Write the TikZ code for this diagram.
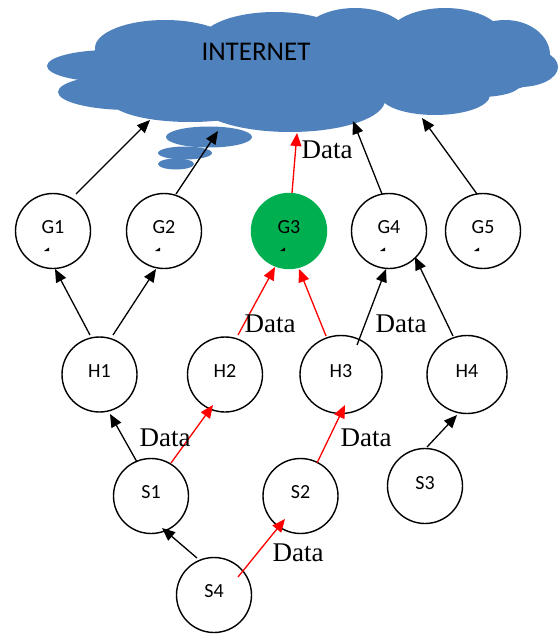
\documentclass[tikz,border=0pt]{standalone}
\usepackage{fontspec}
\newfontfamily\lblfont{Carlito}
\newfontfamily\datafont{Liberation Serif}
\usetikzlibrary{arrows.meta,shapes.geometric,calc}
\definecolor{cloudblue}{RGB}{79,129,189}
\definecolor{nodegreen}{RGB}{0,176,80}
\definecolor{datared}{RGB}{255,0,0}
\begin{document}
\begin{tikzpicture}[x=1pt,y=-1pt,
  station/.style={ellipse,draw=black,line width=1.4pt,minimum width=75pt,minimum height=75pt,inner sep=0pt,font=\lblfont\fontsize{20}{20}\selectfont},
  link/.style={line width=1.3pt,-{Triangle[length=13pt,width=11pt]}},
  datalink/.style={link,draw=datared,fill=datared},
  datalabel/.style={font=\datafont\fontsize{27}{27}\selectfont,inner sep=0pt},
  tickmark/.style={fill=black}]
\useasboundingbox (0,0) rectangle (558,634);
% cloud
\begin{scope}[fill=cloudblue]
\fill (110,66) ellipse [x radius=63, y radius=16];
\fill (130,92) ellipse [x radius=72, y radius=18];
\fill (165,48) ellipse [x radius=70, y radius=28];
\fill (275,42) ellipse [x radius=75, y radius=30];
\fill (355,40) ellipse [x radius=55, y radius=32];
\fill (445,38) ellipse [x radius=58, y radius=30];
\fill (505,55) ellipse [x radius=45, y radius=35];
\fill (520,67) ellipse [x radius=38, y radius=20];
\fill (480,85) ellipse [x radius=40, y radius=12];
\fill (435,95) ellipse [x radius=55, y radius=20];
\fill (290,100) ellipse [x radius=95, y radius=32];
\fill (190,100) ellipse [x radius=80, y radius=22];
\fill (300,65) ellipse [x radius=220, y radius=40];
% small puffs
\fill (209,137) ellipse [x radius=43, y radius=10.5];
\fill (185,153) ellipse [x radius=27, y radius=6.5];
\fill (176,164) ellipse [x radius=18, y radius=5.5];
\end{scope}
\node[font=\lblfont\fontsize{27}{27}\selectfont,inner sep=0pt] (inet) at (256,52) {INTERNET};
\coordinate (c1) at (150,120);
\coordinate (c2) at (218,131);
\coordinate (c3) at (297,133);
\coordinate (c4) at (353,121);
\coordinate (c5) at (422,118);
% nodes
\node[station] (G1) at (53,231) {\raisebox{7pt}{G1}};
\node[station] (G2) at (164,231) {\raisebox{7pt}{G2}};
\node[station,fill=nodegreen,draw=nodegreen] (G3) at (289,231) {\raisebox{7pt}{G3}};
\node[station] (G4) at (389,231) {\raisebox{7pt}{G4}};
\node[station] (G5) at (483,231) {\raisebox{7pt}{G5}};
\node[station] (H1) at (99.5,374.5) {\raisebox{7pt}{H1}};
\node[station] (H2) at (225,374.5) {\raisebox{7pt}{H2}};
\node[station,minimum width=82pt,minimum height=78pt] (H3) at (341,374.5) {\raisebox{7pt}{H3}};
\node[station,minimum width=80pt,minimum height=78pt] (H4) at (467,374.5) {\raisebox{7pt}{H4}};
\node[station] (S1) at (151,496) {\raisebox{8pt}{S1}};
\node[station] (S2) at (300.5,496) {\raisebox{8pt}{S2}};
\node[station] (S3) at (425,486) {\raisebox{6pt}{S3}};
\node[station] (S4) at (214,595) {\raisebox{7pt}{S4}};
% tick marks
\foreach \g in {G1,G2,G3,G4,G5}
  \fill[tickmark] ($(\g)+(-9,20)$) -- ++(5,0) -- ++(0,-3.5) -- cycle;
% arrows to internet
\draw[link] ($(G1)+(23,-37)$) -- (c1);
\draw[link] ($(G2)+(12,-37)$) -- (c2);
\draw[datalink] ($(G3)+(3,-38)$) -- (c3);
\draw[link] ($(G4)+(-7,-37)$) -- (c4);
\draw[link] ($(G5)+(-6,-37)$) -- (c5);
% H to G
\draw[link] ($(H1)+(-9.5,-39.5)$) -- ($(G1)+(2,38)$);
\draw[link] ($(H1)+(13.5,-39.5)$) -- ($(G2)+(-8,38)$);
\draw[datalink] ($(H2)+(13,-39.5)$) -- ($(G3)+(-14,36)$);
\draw[datalink] ($(H3)+(-15,-38.5)$) -- ($(G3)+(10,38)$);
\draw[link] ($(H3)+(16,-29.5)$) -- ($(G4)+(-3,38)$);
\draw[link] ($(H4)+(-14,-38.5)$) -- ($(G4)+(26,26)$);
% S to H
\draw[link] ($(S1)+(-14,-34)$) -- ($(H1)+(10.5,39.5)$);
\draw[datalink] ($(S1)+(20,-33)$) -- ($(H2)+(-12,30.5)$);
\draw[datalink] ($(S2)+(16.5,-33)$) -- ($(H3)+(4,30.5)$);
\draw[link] ($(S3)+(2,-39)$) -- ($(H4)+(-10,40.5)$);
% S4
\draw[link] ($(S4)+(-17,-37)$) -- ($(S1)+(11,32)$);
\draw[datalink] ($(S4)+(24,-18)$) -- ($(S2)+(-15.5,23)$);
% data labels
\node[datalabel] (d1) at (327,150) {Data};
\node[datalabel] (d2) at (270,324) {Data};
\node[datalabel] (d3) at (401,324) {Data};
\node[datalabel] (d4) at (165,438) {Data};
\node[datalabel] (d5) at (366,438) {Data};
\node[datalabel] (d6) at (298,553) {Data};
\end{tikzpicture}
\end{document}
